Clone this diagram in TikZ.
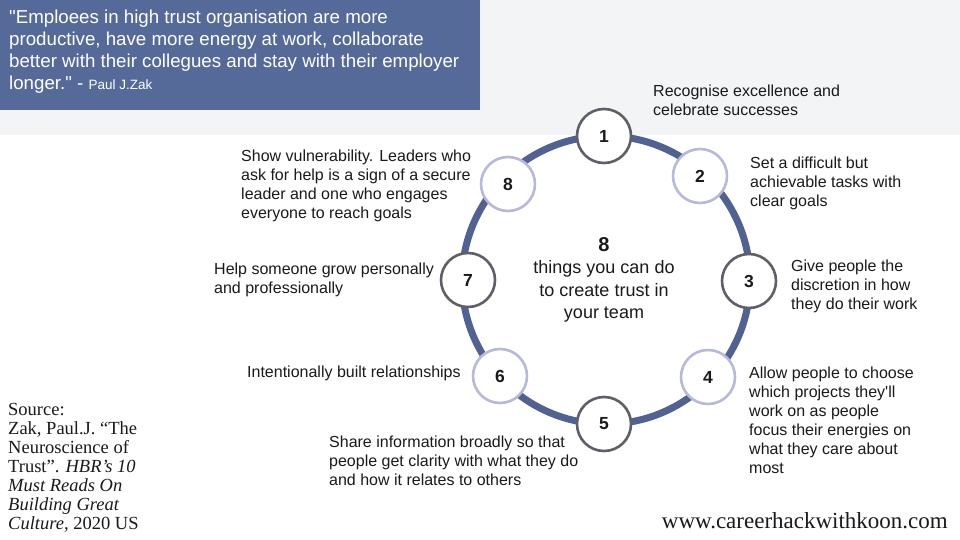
\documentclass[tikz,border=0pt]{standalone}
\usepackage{fontspec}
\setmainfont{Liberation Sans}
\newfontfamily\serifx{Liberation Serif}
\definecolor{band}{HTML}{F3F4F6}
\definecolor{quote}{HTML}{566A99}
\definecolor{ring}{HTML}{4F6291}
\definecolor{dk}{HTML}{5F5F68}
\definecolor{lav}{HTML}{B8B8DE}
\definecolor{txt}{HTML}{1A1A1A}
\begin{document}
\begin{tikzpicture}[x=1pt,y=-1pt,
  num/.style={circle,draw,line width=2.6pt,fill=white,minimum size=54pt,inner sep=0pt,font=\fontsize{17.5}{17.5}\selectfont\bfseries,text=txt},
  odd/.style={num,draw=dk},
  even/.style={num,draw=lav},
  lbl/.style={anchor=north west,align=left,inner sep=0pt,font=\fontsize{16}{19}\selectfont,text=txt}]
\useasboundingbox (0,0) rectangle (960,540);
\fill[white] (0,0) rectangle (960,540);
\fill[band] (0,0) rectangle (960,135);
\fill[quote] (0,0) rectangle (480,110);
\node[anchor=north west,align=left,inner sep=0pt,text=white,font=\fontsize{18.7}{22}\selectfont] (q) at (9,10)
 {\textquotedbl Emploees in high trust organisation are more\\productive, have more energy at work, collaborate\\better with their collegues and stay with their employer\\longer.\textquotedbl\ - {\fontsize{13.5}{22}\selectfont Paul J.Zak}};
\draw[ring,line width=7pt] (606,280) circle (144);
\node[odd] (c1) at (604,136) {1};
\node[even] (c2) at (700,176) {2};
\node[odd] (c3) at (749,281) {3};
\node[even] (c4) at (708,377) {4};
\node[odd] (c5) at (604,424) {5};
\node[even] (c6) at (500,376) {6};
\node[odd] (c7) at (468,280) {7};
\node[even] (c8) at (508,184) {8};
\node[align=center,inner sep=0pt,text=txt,font=\fontsize{18}{22.5}\selectfont] (ctr) at (604,280)
 {{\bfseries\fontsize{20}{22.5}\selectfont 8}\\things you can do\\to create trust in\\your team};
\node[lbl] (t1) at (653,85) {Recognise excellence and\\celebrate successes};
\node[lbl] (t2) at (750,157) {Set a difficult but\\achievable tasks with\\clear goals};
\node[lbl] (t3) at (791,260) {Give people the\\discretion in how\\they do their work};
\node[lbl] (t4) at (749,367) {Allow people to choose\\which projects they\textquotesingle ll\\work on as people\\focus their energies on\\what they care about\\most};
\node[lbl] (t5) at (329,436) {Share information broadly so that\\people get clarity with what they do\\and how it relates to others};
\node[lbl] (t6) at (247,366) {Intentionally built relationships};
\node[lbl] (t7) at (214,263) {Help someone grow personally\\and professionally};
\node[lbl] (t8) at (241,150) {Show vulnerability. Leaders who\\ask for help is a sign of a secure\\leader and one who engages\\everyone to reach goals};
\node[anchor=north west,align=left,inner sep=0pt,text=txt,font=\serifx\fontsize{18.5}{19}\selectfont] (src) at (8,403)
 {Source:\\Zak, Paul.J. “The\\Neuroscience of\\Trust”. \itshape HBR’s 10\\\itshape Must Reads On\\\itshape Building Great\\\itshape Culture, \upshape 2020 US};
\node[anchor=base east,inner sep=0pt,text=txt,font=\serifx\fontsize{23}{23}\selectfont] (web) at (948,528) {www.careerhackwithkoon.com};
\end{tikzpicture}
\end{document}
